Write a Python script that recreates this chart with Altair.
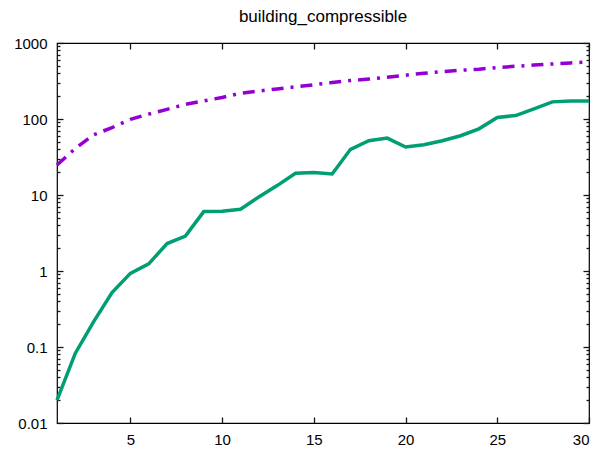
import altair as alt
import pandas as pd

# ---- data ----
x_vals = list(range(1, 31))
green_vals = [0.020, 0.083, 0.216, 0.52, 0.93, 1.24, 2.3, 2.88, 6.05, 6.1,
              6.5, 9.4, 13.3, 19.3, 19.7, 18.9, 39.9, 51.8, 56.1, 42.8,
              45.8, 51.8, 60.2, 74.3, 105, 111, 136, 168, 173, 173]
purple_vals = [24.8, 41, 62, 77, 98.8, 116, 134, 156, 173, 192,
               218, 234, 248, 265, 282, 302, 320, 335, 355, 377,
               400, 420, 438, 453, 476, 494, 513, 530, 547, 563]
x_ticks = [5, 10, 15, 20, 25, 30]
y_major = [0.01, 0.1, 1, 10, 100, 1000]
y_minor = [m * 10.0 ** e for e in range(-2, 3) for m in range(2, 10)]
title_text = "building_compressible"

df = pd.DataFrame({"x": x_vals, "green": green_vals, "purple": purple_vals})

FONT = "Liberation Sans"
W, H = 532, 380
xscale = alt.Scale(domain=[1, 30], nice=False, zero=False)
yscale = alt.Scale(type="log", domain=[0.01, 1000], nice=False)

common = dict(domain=False, grid=False, title=None, tickColor="#151515", tickWidth=1.3)
MAJ = {"expr": "-6"}
MIN = {"expr": "-3"}

ax_x_bottom = alt.Axis(orient="bottom", values=x_ticks, tickSize=MAJ, labelPadding=15,
                       labelFont=FONT, labelFontSize=15, labelColor="black", **common)
ax_y_left = alt.Axis(orient="left", values=y_major, tickSize=MAJ, labelPadding=16,
                     labelFont=FONT, labelFontSize=15, labelColor="black",
                     format="~g", **common)
ax_x_top = alt.Axis(orient="top", values=x_ticks, tickSize=MAJ, labels=False, **common)
ax_y_right = alt.Axis(orient="right", values=y_major, tickSize=MAJ, labels=False, **common)
ax_y_minor_left = alt.Axis(orient="left", values=y_minor, tickSize=MIN, labels=False, **common)
ax_y_minor_right = alt.Axis(orient="right", values=y_minor, tickSize=MIN, labels=False, **common)

base = alt.Chart(df)

purple = base.mark_line(color="#9400d3", strokeWidth=3.5, strokeDash=[12, 7, 3, 7]).encode(
    x=alt.X("x:Q", scale=xscale, axis=ax_x_bottom),
    y=alt.Y("purple:Q", scale=yscale, axis=ax_y_left),
)
green = base.mark_line(color="#009e73", strokeWidth=3.5).encode(
    x=alt.X("x:Q", scale=xscale, axis=ax_x_top),
    y=alt.Y("green:Q", scale=yscale, axis=ax_y_right),
)
inv1 = base.mark_line(opacity=0).encode(
    x=alt.X("x:Q", scale=xscale, axis=None),
    y=alt.Y("green:Q", scale=yscale, axis=ax_y_minor_left),
)
inv2 = base.mark_line(opacity=0).encode(
    x=alt.X("x:Q", scale=xscale, axis=None),
    y=alt.Y("purple:Q", scale=yscale, axis=ax_y_minor_right),
)

chart = (
    alt.layer(purple, green, inv1, inv2)
    .resolve_axis(x="independent", y="independent")
    .properties(
        width=W,
        height=H,
        autosize="none",
        padding={"left": 49, "top": 35, "right": 9, "bottom": 23},
        background="white",
        title=alt.Title(title_text, fontSize=17, font=FONT, fontWeight="normal",
                        color="black", anchor="middle", offset=10),
    )
    .configure_view(stroke="black", strokeWidth=1.2)
)

chart.save("out.html", embed_options={"renderer": "svg", "actions": False})
